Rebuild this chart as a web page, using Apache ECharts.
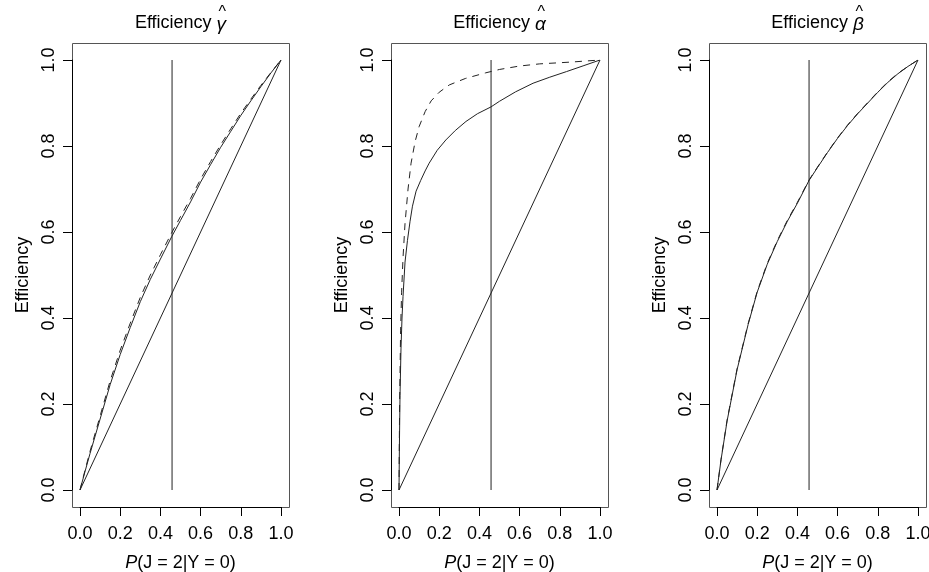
<!DOCTYPE html>
<html>
<head>
<meta charset="utf-8">
<script src="https://cdn.jsdelivr.net/npm/echarts@6/dist/echarts.min.js"></script>
<style>
  html, body { margin: 0; padding: 0; background: #fff; }
  #chart { width: 929px; height: 572px; }
</style>
</head>
<body>
<div id="chart"></div>
<script>
// values
const cutP = 0.458
const diagX = [0, 1]
const diagY = [0, 1]

// panel 1: gamma
const gamX = [0, 0.025, 0.05, 0.1, 0.15, 0.2, 0.25, 0.3, 0.35, 0.4, 0.456, 0.5, 0.55, 0.6, 0.65, 0.7, 0.75, 0.8, 0.85, 0.9, 0.95, 1]
const gamSolid = [0, 0.043, 0.085, 0.165, 0.245, 0.315, 0.378, 0.438, 0.49, 0.537, 0.589, 0.627, 0.67, 0.716, 0.757, 0.797, 0.834, 0.871, 0.905, 0.938, 0.97, 1]
const gamDash = [0, 0.046, 0.09, 0.172, 0.254, 0.325, 0.388, 0.448, 0.5, 0.547, 0.598, 0.636, 0.678, 0.723, 0.764, 0.803, 0.84, 0.876, 0.909, 0.941, 0.971, 1]

// panel 2: alpha
const alpSolidX = [0, 0.002, 0.005, 0.01, 0.015, 0.02, 0.03, 0.042, 0.055, 0.067, 0.085, 0.108, 0.13, 0.15, 0.19, 0.233, 0.28, 0.333, 0.39, 0.458, 0.5, 0.58, 0.667, 0.75, 0.833, 0.92, 1]
const alpSolidY = [0, 0.1, 0.22, 0.33, 0.4, 0.45, 0.53, 0.58, 0.625, 0.66, 0.695, 0.72, 0.742, 0.76, 0.79, 0.814, 0.836, 0.857, 0.875, 0.891, 0.904, 0.926, 0.946, 0.96, 0.973, 0.987, 1]
const alpDashX = [0, 0.003, 0.008, 0.013, 0.02, 0.03, 0.045, 0.06, 0.08, 0.1, 0.13, 0.16, 0.2, 0.25, 0.33, 0.43, 0.5, 0.6, 0.7, 0.85, 1]
const alpDashY = [0, 0.2, 0.37, 0.46, 0.54, 0.62, 0.7, 0.76, 0.81, 0.845, 0.88, 0.905, 0.925, 0.942, 0.957, 0.97, 0.978, 0.986, 0.991, 0.995, 1]

// panel 3: beta
const betX = [0, 0.02, 0.05, 0.1, 0.155, 0.2, 0.25, 0.3, 0.35, 0.4, 0.458, 0.5, 0.55, 0.6, 0.65, 0.7, 0.75, 0.8, 0.85, 0.9, 0.95, 1]
const betSolid = [0, 0.07, 0.16, 0.28, 0.385, 0.46, 0.525, 0.578, 0.625, 0.667, 0.72, 0.75, 0.785, 0.818, 0.848, 0.875, 0.9, 0.925, 0.948, 0.968, 0.985, 1]
const betDash = [0, 0.071, 0.162, 0.282, 0.387, 0.462, 0.527, 0.58, 0.627, 0.669, 0.721, 0.751, 0.786, 0.819, 0.849, 0.876, 0.901, 0.926, 0.949, 0.969, 0.985, 1]

const titleWord = 'Efficiency '
const titleGreek = ['\u03B3', '\u03B1', '\u03B2']

const zip = (xs, ys) => xs.map((x, i) => [x, ys[i]])

const font = 'Liberation Sans, Arial, Helvetica, sans-serif'
const ink = '#222'
const panelLeft = [80, 399, 717]
const plotW = 201
const plotTop = 60
const plotH = 430

const panels = [
  { solid: zip(gamX, gamSolid), dash: zip(gamX, gamDash) },
  { solid: zip(alpSolidX, alpSolidY), dash: zip(alpDashX, alpDashY) },
  { solid: zip(betX, betSolid), dash: zip(betX, betDash) }
]

// measure title pieces so the hat can sit over the greek letter
const ctx = document.createElement('canvas').getContext('2d')
ctx.font = '18px ' + font
const wordW = ctx.measureText(titleWord).width
ctx.font = 'italic 19px ' + font

const grids = [], xAxes = [], yAxes = [], series = [], graphics = []

panels.forEach((p, i) => {
  grids.push({ left: panelLeft[i], top: plotTop, width: plotW, height: plotH, containLabel: false, outerBoundsMode: 'none' })
  xAxes.push({
    gridIndex: i, type: 'value', min: 0, max: 1, interval: 0.2, offset: 17,
    name: '{i|P}(J = 2|Y = 0)', nameLocation: 'middle', nameGap: 47,
    nameTextStyle: {
      fontFamily: font, fontSize: 18, color: '#000',
      rich: { i: { fontFamily: font, fontSize: 18, fontStyle: 'italic', color: '#000' } }
    },
    axisLine: { show: true, onZero: false, lineStyle: { color: '#000', width: 1 } },
    axisTick: { show: true, length: 9, lineStyle: { color: '#000' } },
    axisLabel: { fontFamily: font, fontSize: 18, color: '#000', margin: 18, formatter: v => v.toFixed(1) },
    splitLine: { show: false }
  })
  yAxes.push({
    gridIndex: i, type: 'value', min: 0, max: 1, interval: 0.2, offset: 8,
    name: 'Efficiency', nameLocation: 'middle', nameGap: 40,
    nameTextStyle: { fontFamily: font, fontSize: 18, color: '#000' },
    axisLine: { show: true, onZero: false, lineStyle: { color: '#000', width: 1 } },
    axisTick: { show: true, length: 9, lineStyle: { color: '#000' } },
    axisLabel: { fontFamily: font, fontSize: 18, color: '#000', margin: 14, rotate: 90, formatter: v => v.toFixed(1) },
    splitLine: { show: false }
  })
  const base = { type: 'line', xAxisIndex: i, yAxisIndex: i, showSymbol: false, symbol: 'none', silent: true, animation: false }
  series.push(Object.assign({}, base, { data: zip(diagX, diagY), lineStyle: { color: ink, width: 1 } }))
  series.push(Object.assign({}, base, { data: [[cutP, 0], [cutP, 1]], lineStyle: { color: ink, width: 1 } }))
  series.push(Object.assign({}, base, { data: p.dash, lineStyle: { color: ink, width: 1, type: [7, 6] } }))
  series.push(Object.assign({}, base, { data: p.solid, lineStyle: { color: ink, width: 1 } }))
  // plot box
  graphics.push({
    type: 'rect', silent: true,
    shape: { x: panelLeft[i] - 8 + 0.5, y: plotTop - 17 + 0.5, width: plotW + 16, height: plotH + 34 },
    style: { fill: 'none', stroke: '#555', lineWidth: 1 }
  })
  // title: word + greek letter with a hat
  const gW = ctx.measureText(titleGreek[i]).width
  const start = panelLeft[i] + plotW / 2 - (wordW + gW) / 2
  graphics.push({
    type: 'text', silent: true, x: start, y: 23,
    style: { text: titleWord, font: '18px ' + font, fill: '#000', align: 'left', verticalAlign: 'middle' }
  })
  graphics.push({
    type: 'text', silent: true, x: start + wordW, y: 25,
    style: { text: titleGreek[i], font: 'italic 19px ' + font, fill: '#000', align: 'left', verticalAlign: 'middle' }
  })
  graphics.push({
    type: 'text', silent: true, x: start + wordW + gW / 2 + 1, y: 13,
    style: { text: '^', font: '16px ' + font, fill: '#000', align: 'center', verticalAlign: 'middle' }
  })
})

const chart = echarts.init(document.getElementById('chart'))
chart.setOption({
  backgroundColor: '#fff',
  animation: false,
  grid: grids,
  xAxis: xAxes,
  yAxis: yAxes,
  series: series,
  graphic: graphics
})
</script>
</body>
</html>
